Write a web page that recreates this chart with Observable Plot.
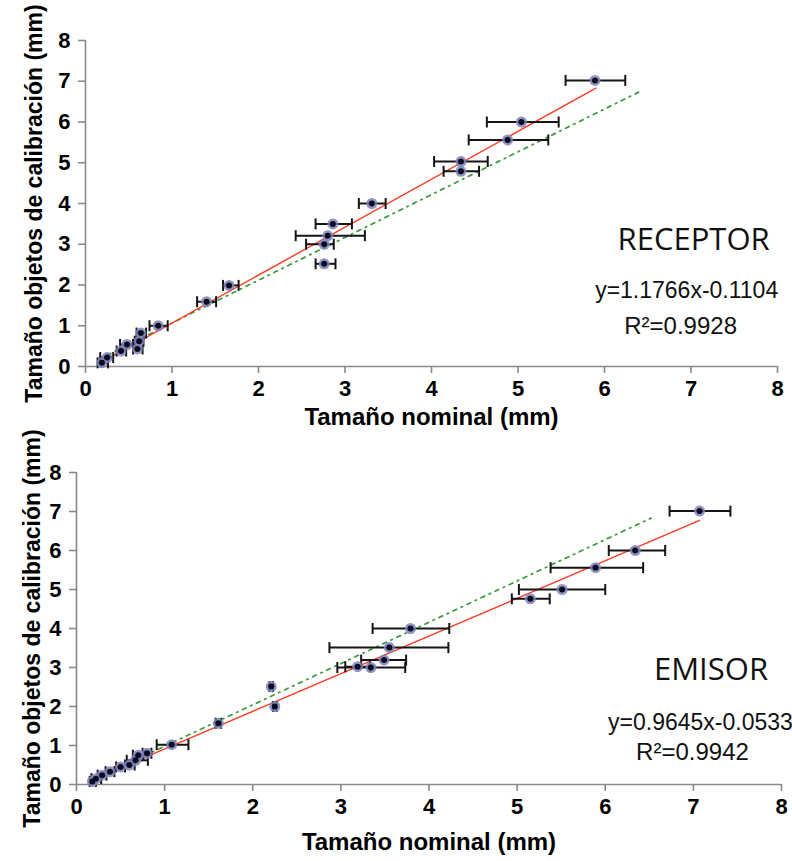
<!DOCTYPE html>
<html>
<head>
<meta charset="utf-8">
<script src="https://cdn.jsdelivr.net/npm/d3@7"></script>
<script src="https://cdn.jsdelivr.net/npm/@observablehq/plot@0.6"></script>
<style>
  html, body { margin: 0; padding: 0; background: #fff; }
  #chart { width: 792px; }
  #chart svg { display: block; overflow: visible; }
</style>
</head>
<body>
<div id="chart"></div>
<script>
// ---------- DATA ----------
// RECEPTOR panel
const recX    = [0.19, 0.25, 0.41, 0.48, 0.60, 0.62, 0.64, 0.84, 1.40, 1.66, 2.76, 2.76, 2.80, 2.86, 3.31, 4.34, 4.34, 4.88, 5.04, 5.89];
const recY    = [0.09, 0.22, 0.38, 0.54, 0.43, 0.62, 0.82, 1.00, 1.59, 1.99, 2.52, 3.00, 3.21, 3.50, 4.00, 4.79, 5.03, 5.56, 6.00, 7.02];
const recXmin = [0.14, 0.17, 0.36, 0.40, 0.55, 0.57, 0.59, 0.74, 1.29, 1.59, 2.66, 2.55, 2.43, 2.66, 3.16, 4.14, 4.03, 4.43, 4.64, 5.55];
const recXmax = [0.26, 0.32, 0.47, 0.55, 0.66, 0.67, 0.70, 0.95, 1.51, 1.77, 2.89, 2.87, 3.23, 3.08, 3.47, 4.55, 4.65, 5.35, 5.47, 6.24];
// fit line (red) and reference line (green dash-dot) end points
const recRedX   = [0.17, 5.90];
const recRedY   = [0.09, 6.83];
const recGreenX = [0.25, 6.43];
const recGreenY = [0.28, 6.77];

// EMISOR panel
const emiX    = [0.18, 0.22, 0.29, 0.38, 0.50, 0.60, 0.67, 0.70, 0.80, 1.08, 1.61, 2.21, 2.25, 3.19, 3.34, 3.49, 3.55, 3.79, 5.15, 5.51, 5.89, 6.34, 7.07];
const emiY    = [0.08, 0.15, 0.24, 0.33, 0.45, 0.50, 0.62, 0.75, 0.80, 1.02, 1.57, 2.51, 2.00, 3.02, 3.00, 3.19, 3.51, 4.00, 4.76, 5.00, 5.56, 6.00, 7.01];
const emiXmin = [0.15, 0.17, 0.24, 0.33, 0.45, 0.55, 0.57, 0.64, 0.75, 0.91, 1.58, 2.19, 2.23, 3.05, 2.96, 3.23, 2.87, 3.36, 4.94, 5.02, 5.38, 6.04, 6.73];
const emiXmax = [0.22, 0.28, 0.34, 0.43, 0.55, 0.66, 0.81, 0.76, 0.85, 1.27, 1.64, 2.23, 2.27, 3.33, 3.73, 3.74, 4.22, 4.23, 5.37, 6.00, 6.43, 6.68, 7.42];
const emiRedX   = [0.20, 7.07];
const emiRedY   = [0.14, 6.77];
const emiGreenX = [0.45, 6.52];
const emiGreenY = [0.40, 6.83];

// axis ticks and texts
const ticks = [0, 1, 2, 3, 4, 5, 6, 7, 8];
const xTitle = "Tamaño nominal (mm)";
const yTitle = "Tamaño objetos de calibración (mm)";
const recLabels = ["RECEPTOR", "y=1.1766x-0.1104", "R²=0.9928"];
const emiLabels = ["EMISOR", "y=0.9645x-0.0533", "R²=0.9942"];

// ---------- BUILD ----------
const toRows = (xs, ys, lo, hi) => xs.map((x, i) => ({x, y: ys[i], lo: lo[i], hi: hi[i]}));
const toLine = (xs, ys) => xs.map((x, i) => ({x, y: ys[i]}));

const capSymbol = {
  draw(ctx) { ctx.moveTo(0, -5.5); ctx.lineTo(0, 5.5); }
};

const FONT = "'Liberation Sans', Arial, sans-serif";

function panel({rows, red, green, labels, labelPos, m, height, xLabelOffset, yLabelOffset}) {
  return Plot.plot({
    width: 792,
    height,
    marginLeft: m.left, marginRight: m.right, marginTop: m.top, marginBottom: m.bottom,
    style: {fontFamily: FONT, fontSize: "22px", fontWeight: "bold", color: "#000", background: "transparent", overflow: "visible"},
    x: {domain: [0, 8]},
    y: {domain: [0, 8]},
    marks: [
      Plot.ruleY([0], {stroke: "#8a8a8a", strokeWidth: 1.6}),
      Plot.ruleX([0], {stroke: "#8a8a8a", strokeWidth: 1.6}),
      // gray tick marks
      Plot.axisX(ticks, {tickSize: 7, tickFormat: () => "", color: "#8a8a8a", strokeWidth: 1.6, label: null}),
      Plot.axisY(ticks, {tickSize: 7, tickFormat: () => "", color: "#8a8a8a", strokeWidth: 1.6, label: null}),
      // tick labels
      Plot.axisX(ticks, {tickSize: 0, tickPadding: 14, color: "#000", fontSize: 22, fontWeight: "bold", label: null}),
      Plot.axisY(ticks, {tickSize: 0, tickPadding: 15, color: "#000", fontSize: 22, fontWeight: "bold", label: null}),
      // axis titles
      Plot.axisX(ticks, {tickSize: 0, tickFormat: () => "", color: "#000", fontSize: 24, fontWeight: "bold",
        label: xTitle, labelAnchor: "center", labelOffset: xLabelOffset, labelArrow: "none"}),
      Plot.axisY(ticks, {tickSize: 0, tickFormat: () => "", color: "#000", fontSize: 23, fontWeight: "bold",
        label: yTitle, labelAnchor: "center", labelOffset: yLabelOffset, labelArrow: "none"}),
      // lines
      Plot.line(green, {x: "x", y: "y", stroke: "#3c9a3c", strokeWidth: 1.7, strokeDasharray: "4,5,1.5,5"}),
      Plot.line(red, {x: "x", y: "y", stroke: "#ff3b22", strokeWidth: 1.4}),
      // error bars
      Plot.link(rows, {x1: "lo", x2: "hi", y1: "y", y2: "y", stroke: "#151515", strokeWidth: 2}),
      Plot.dot(rows, {x: "lo", y: "y", symbol: capSymbol, fill: "none", stroke: "#151515", strokeWidth: 2}),
      Plot.dot(rows, {x: "hi", y: "y", symbol: capSymbol, fill: "none", stroke: "#151515", strokeWidth: 2}),
      // markers
      Plot.dot(rows, {x: "x", y: "y", r: 5.5, fill: "#7e82bb", fillOpacity: 0.85}),
      Plot.dot(rows, {x: "x", y: "y", r: 3, fill: "#0b0b1e"}),
      // annotations
      Plot.text([labels[0]], {x: labelPos[0][0], y: labelPos[0][1], text: d => d, fontFamily: "'Open Sans', 'Noto Sans', sans-serif",
        fontWeight: "normal", fontSize: 31, textAnchor: "middle", lineAnchor: "bottom", fill: "#111"}),
      Plot.text([labels[1]], {x: labelPos[1][0], y: labelPos[1][1], text: d => d, fontFamily: FONT,
        fontWeight: "normal", fontSize: 23, textAnchor: "middle", lineAnchor: "bottom", fill: "#111"}),
      Plot.text([labels[2]], {x: labelPos[2][0], y: labelPos[2][1], text: d => d, fontFamily: FONT,
        fontWeight: "normal", fontSize: 24, textAnchor: "middle", lineAnchor: "bottom", fill: "#111"})
    ]
  });
}

const topPanel = panel({
  rows: toRows(recX, recY, recXmin, recXmax),
  red: toLine(recRedX, recRedY),
  green: toLine(recGreenX, recGreenY),
  labels: recLabels,
  labelPos: [[7.03, 2.85], [6.95, 1.67], [6.88, 0.79]],
  m: {left: 85, right: 15, top: 40, bottom: 64},
  height: 430,
  xLabelOffset: 58,
  yLabelOffset: 60
});

const bottomPanel = panel({
  rows: toRows(emiX, emiY, emiXmin, emiXmax),
  red: toLine(emiRedX, emiRedY),
  green: toLine(emiGreenX, emiGreenY),
  labels: emiLabels,
  labelPos: [[7.2, 2.67], [7.08, 1.41], [6.99, 0.62]],
  m: {left: 76, right: 11, top: 42, bottom: 77},
  height: 431,
  xLabelOffset: 65,
  yLabelOffset: 53
});

document.getElementById("chart").append(topPanel, bottomPanel);
</script>
</body>
</html>
